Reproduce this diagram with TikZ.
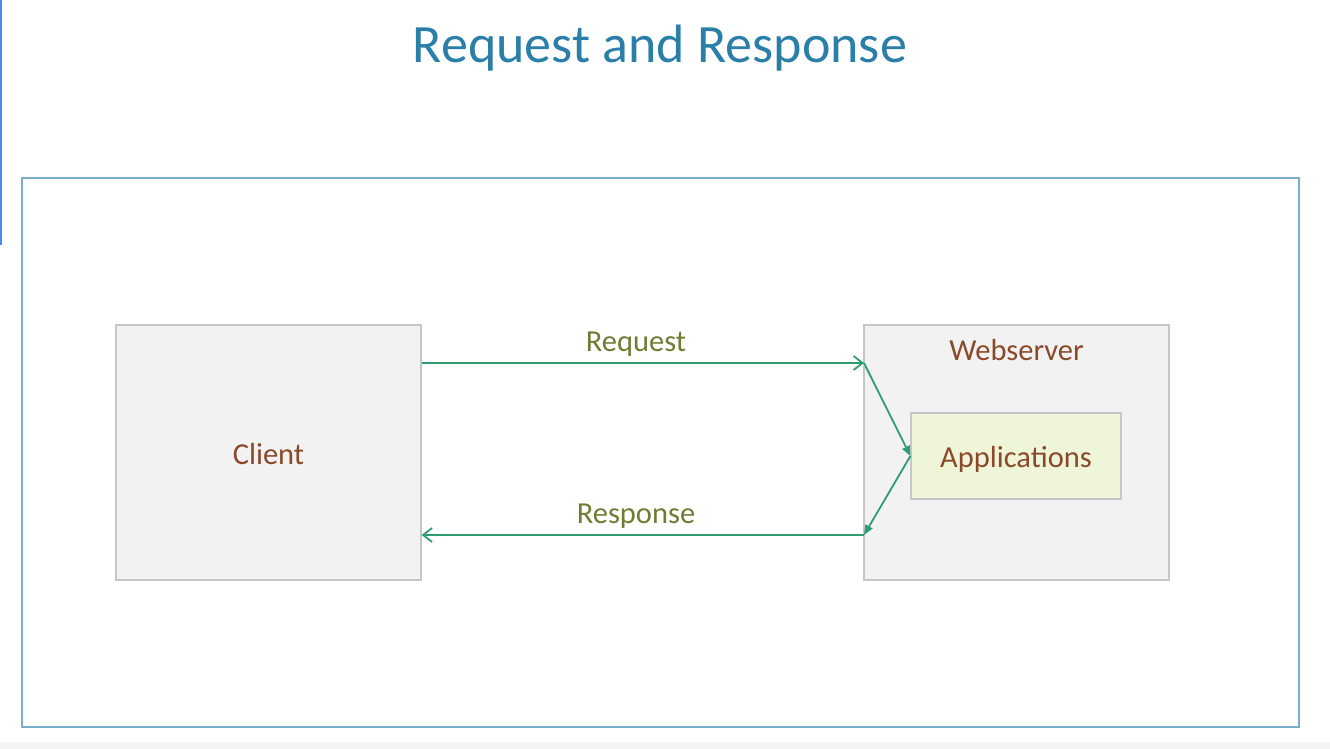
\documentclass[tikz,border=0pt]{standalone}
\usepackage{fontspec}
\setmainfont{Carlito}
\usetikzlibrary{arrows.meta}
\definecolor{titleblue}{HTML}{2A7FA8}
\definecolor{framec}{HTML}{7AAFCB}
\definecolor{boxfill}{HTML}{F2F2F2}
\definecolor{boxline}{HTML}{C6C6C6}
\definecolor{appfill}{HTML}{EEF5D8}
\definecolor{flow}{HTML}{2E9E70}
\definecolor{flowlabel}{HTML}{6E7D34}
\definecolor{nodetext}{HTML}{8A4A2A}
\definecolor{edgeblue}{HTML}{4A8CF0}
\definecolor{stripgray}{HTML}{F4F4F4}
\tikzset{
  block/.style={draw=boxline, line width=1.2pt, fill=boxfill, inner sep=0pt,
    minimum width=305pt, minimum height=255pt},
  appbox/.style={draw=boxline, line width=1.2pt, fill=appfill, inner sep=0pt,
    minimum width=210pt, minimum height=86pt},
  blocktext/.style={text=nodetext, anchor=base, font=\fontsize{30.5}{34}\selectfont},
  flowtext/.style={text=flowlabel, anchor=base, font=\fontsize{30.5}{34}\selectfont},
  flowline/.style={draw=flow, line width=1.8pt},
  openhead/.style={-{Straight Barb[length=9pt,width=14pt,line width=1.8pt]}},
  solidhead/.style={-{Triangle[length=10pt,width=8pt]}}
}
\begin{document}
\begin{tikzpicture}[x=1pt,y=-1pt]
\useasboundingbox (0,0) rectangle (1330,749);
\fill[white] (0,0) rectangle (1330,749);
% screen edge marks
\fill[edgeblue] (0,0) rectangle (2,245);
\fill[stripgray] (0,742) rectangle (1330,749);

% title
\node[text=titleblue, anchor=base, font=\fontsize{54}{60}\selectfont] (title) at (660,63) {Request and Response};

% outer frame
\draw[framec, line width=2.2pt] (22,178) rectangle (1299,727);

% boxes
\node[block] (client) at (268.5,452.5) {};
\node[blocktext] (clientlbl) at (268.5,464) {Client};
\node[block] (web) at (1016.5,452.5) {};
\node[blocktext] (weblbl) at (1016.5,360) {Webserver};
\node[appbox] (app) at (1016,456) {};
\node[blocktext] (applbl) at (1016,467) {Applications};

% connection points on the webserver edge
\coordinate (reqin) at (864,363);
\coordinate (resout) at (864,535);

% request / response
\draw[flowline, openhead] (client.east |- reqin) -- (reqin);
\draw[flowline, solidhead] (reqin) -- (app.west);
\draw[flowline, solidhead] (app.west) -- (resout);
\draw[flowline, openhead] (resout) -- (client.east |- resout);

\node[flowtext] (reqlbl) at (636,351) {Request};
\node[flowtext] (reslbl) at (636,523) {Response};
\end{tikzpicture}
\end{document}
